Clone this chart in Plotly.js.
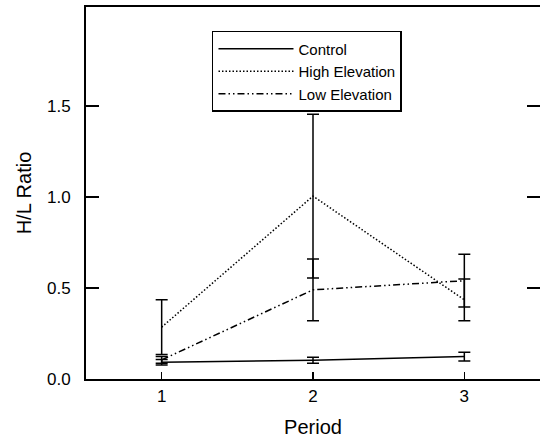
<!DOCTYPE html>
<html>
<head>
<meta charset="utf-8">
<script src="https://cdn.plot.ly/plotly-3.0.1.min.js"></script>
<style>
html,body{margin:0;padding:0;background:#fff;}
#chart{width:540px;height:438px;}
</style>
</head>
<body>
<div id="chart"></div>
<script>
var periods = [1, 2, 3];
var seriesNames = ["Control", "High Elevation", "Low Elevation"];
var controlMean = [0.092, 0.103, 0.123];
var controlErr = [0.015, 0.017, 0.024];
var highMean = [0.285, 1.005, 0.435];
var highErr = [0.15, 0.45, 0.115];
var lowMean = [0.105, 0.49, 0.54];
var lowErr = [0.018, 0.17, 0.145];
var yTickVals = [0, 0.5, 1.0, 1.5];
var yTickText = ["0.0", "0.5", "1.0", "1.5"];
var xTickVals = [1, 2, 3];
var xTickText = ["1", "2", "3"];

var FONT = "Arial, 'Liberation Sans', sans-serif";

function mk(name, y, err, dash) {
  return {
    x: periods, y: y, name: name, type: "scatter", mode: "lines",
    line: {color: "#000", width: 1.5, dash: dash},
    error_y: {type: "data", array: err, visible: true, color: "#000", thickness: 1.5, width: 6}
  };
}

var data = [
  mk(seriesNames[0], controlMean, controlErr, "solid"),
  mk(seriesNames[1], highMean, highErr, "1.5px,2px"),
  mk(seriesNames[2], lowMean, lowErr, "7px,3px,1.5px,3px,1.5px,3px")
];

var layout = {
  width: 540, height: 438,
  margin: {l: 86, r: 0, t: 7, b: 59, pad: 0},
  paper_bgcolor: "#fff", plot_bgcolor: "#fff",
  font: {family: FONT, color: "#000"},
  showlegend: true,
  legend: {
    x: 0.2775, y: 0.9355, xanchor: "left", yanchor: "top",
    bordercolor: "#000", borderwidth: 1.5, bgcolor: "#fff",
    font: {family: FONT, size: 15, color: "#000"},
    itemwidth: 75, tracegroupgap: 0
  },
  xaxis: {
    range: [0.5, 3.5], tickvals: xTickVals, ticktext: xTickText,
    ticks: "inside", ticklen: 7, tickwidth: 1.5, tickcolor: "#000",
    showline: true, linecolor: "#000", linewidth: 2, mirror: true,
    showgrid: false, zeroline: false, ticklabelstandoff: 1,
    tickfont: {family: FONT, size: 17, color: "#000"},
    title: {text: "Period", font: {family: FONT, size: 20, color: "#000"}, standoff: 15}
  },
  yaxis: {
    range: [0, 2.044], tickvals: yTickVals, ticktext: yTickText,
    ticks: "inside", ticklen: 13, tickwidth: 1.5, tickcolor: "#000",
    showline: true, linecolor: "#000", linewidth: 2, mirror: "ticks",
    showgrid: false, zeroline: false, ticklabelstandoff: 10,
    tickfont: {family: FONT, size: 17, color: "#000"},
    title: {text: "H/L Ratio", font: {family: FONT, size: 20, color: "#000"}, standoff: 10}
  }
};

Plotly.newPlot("chart", data, layout, {displayModeBar: false, staticPlot: true});
</script>
</body>
</html>
